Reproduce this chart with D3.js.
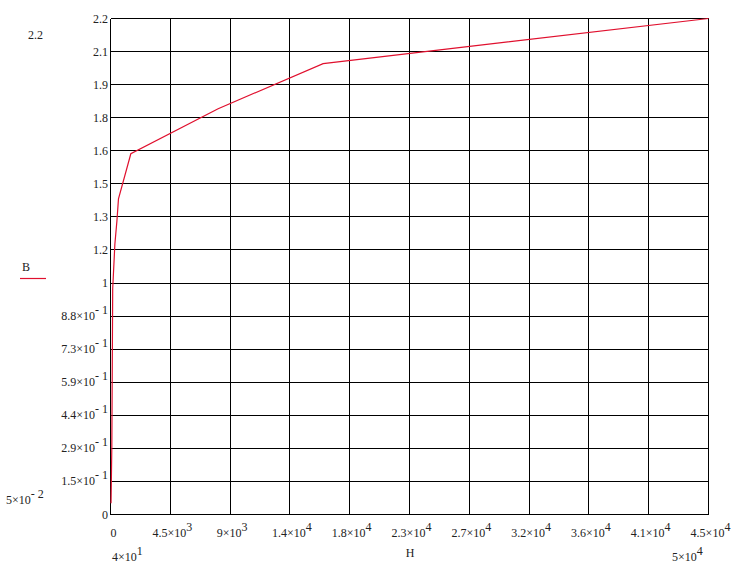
<!DOCTYPE html>
<html>
<head>
<meta charset="utf-8">
<script src="https://cdn.jsdelivr.net/npm/d3@7"></script>
<style>
  html, body { margin: 0; padding: 0; background: #ffffff; }
  svg text { font-family: "Liberation Serif", "DejaVu Serif", serif; font-size: 12px; fill: #222; }
</style>
</head>
<body>
<svg id="chart" width="739" height="573"></svg>
<script>
// ---- data ----
const H = [40, 100, 165, 330, 480, 600, 1530, 8100, 16000, 45000];
const B = [0.05, 0.3, 1.0, 1.2, 1.3, 1.4, 1.6, 1.8, 2.0, 2.2];

const xTickValues = [0, 4500, 9000, 13500, 18000, 22500, 27000, 31500, 36000, 40500, 45000];
const xTickLabels = ["0", "4.5×10^3", "9×10^3", "1.4×10^4", "1.8×10^4", "2.3×10^4", "2.7×10^4", "3.2×10^4", "3.6×10^4", "4.1×10^4", "4.5×10^4"];

const yTickLabels = ["0", "1.5×10^- 1", "2.9×10^- 1", "4.4×10^- 1", "5.9×10^- 1", "7.3×10^- 1", "8.8×10^- 1",
                     "1", "1.2", "1.3", "1.5", "1.6", "1.8", "1.9", "2.1", "2.2"];
const yMax = 2.2;

const xAxisLabel = "H";
const yAxisLabel = "B";
const xLimitLabels = ["4×10^1", "5×10^4"];
const yLimitLabels = ["5×10^- 2", "2.2"];

// ---- layout ----
const svg = d3.select("#chart");
const pLeft = 110.5, pRight = 708.5, pTop = 18.5, pBottom = 514.5;

const x = d3.scaleLinear().domain([0, 45000]).range([pLeft, pRight]);
const y = d3.scaleLinear().domain([0, yMax]).range([pBottom, pTop]);
const yTickValues = d3.range(yTickLabels.length).map(i => i * yMax / (yTickLabels.length - 1));

function writeSup(textSel, str) {
  const parts = str.split("^");
  textSel.append("tspan").text(parts[0]);
  if (parts.length > 1) {
    textSel.append("tspan").attr("dy", -6).text(parts[1]);
  }
}

// grid
const grid = svg.append("g").attr("stroke", "#000").attr("stroke-width", 1).attr("shape-rendering", "crispEdges");
grid.selectAll("line.v").data(xTickValues).enter().append("line")
  .attr("x1", d => x(d)).attr("x2", d => x(d)).attr("y1", pTop).attr("y2", pBottom);
grid.selectAll("line.h").data(yTickValues).enter().append("line")
  .attr("y1", d => y(d)).attr("y2", d => y(d)).attr("x1", pLeft).attr("x2", pRight);

// x tick labels
xTickValues.forEach((v, i) => {
  const t = svg.append("text")
    .attr("x", i === 0 ? x(v) + 3 : x(v) + 2)
    .attr("y", 537)
    .attr("text-anchor", "middle");
  writeSup(t, xTickLabels[i]);
});

// y tick labels
yTickValues.forEach((v, i) => {
  const t = svg.append("text")
    .attr("x", 108)
    .attr("y", y(v) + 4)
    .attr("text-anchor", "end");
  writeSup(t, yTickLabels[i]);
});

// curve
const line = d3.line().x((d, i) => x(H[i])).y((d, i) => y(B[i]));
svg.append("path")
  .datum(B)
  .attr("d", line)
  .attr("fill", "none")
  .attr("stroke", "#e0102e")
  .attr("stroke-width", 1.2);

// axis names
svg.append("text").attr("x", 410).attr("y", 557).attr("text-anchor", "middle").text(xAxisLabel);
svg.append("text").attr("x", 26).attr("y", 271).attr("text-anchor", "middle").text(yAxisLabel);
svg.append("line").attr("x1", 20).attr("x2", 46).attr("y1", 278.5).attr("y2", 278.5)
  .attr("stroke", "#e0102e").attr("stroke-width", 1.2);

// limit labels
const xl0 = svg.append("text").attr("x", 112).attr("y", 561); writeSup(xl0, xLimitLabels[0]);
const xl1 = svg.append("text").attr("x", 672).attr("y", 561); writeSup(xl1, xLimitLabels[1]);
const yl0 = svg.append("text").attr("x", 6).attr("y", 504); writeSup(yl0, yLimitLabels[0]);
const yl1 = svg.append("text").attr("x", 28).attr("y", 39); writeSup(yl1, yLimitLabels[1]);
</script>
</body>
</html>
